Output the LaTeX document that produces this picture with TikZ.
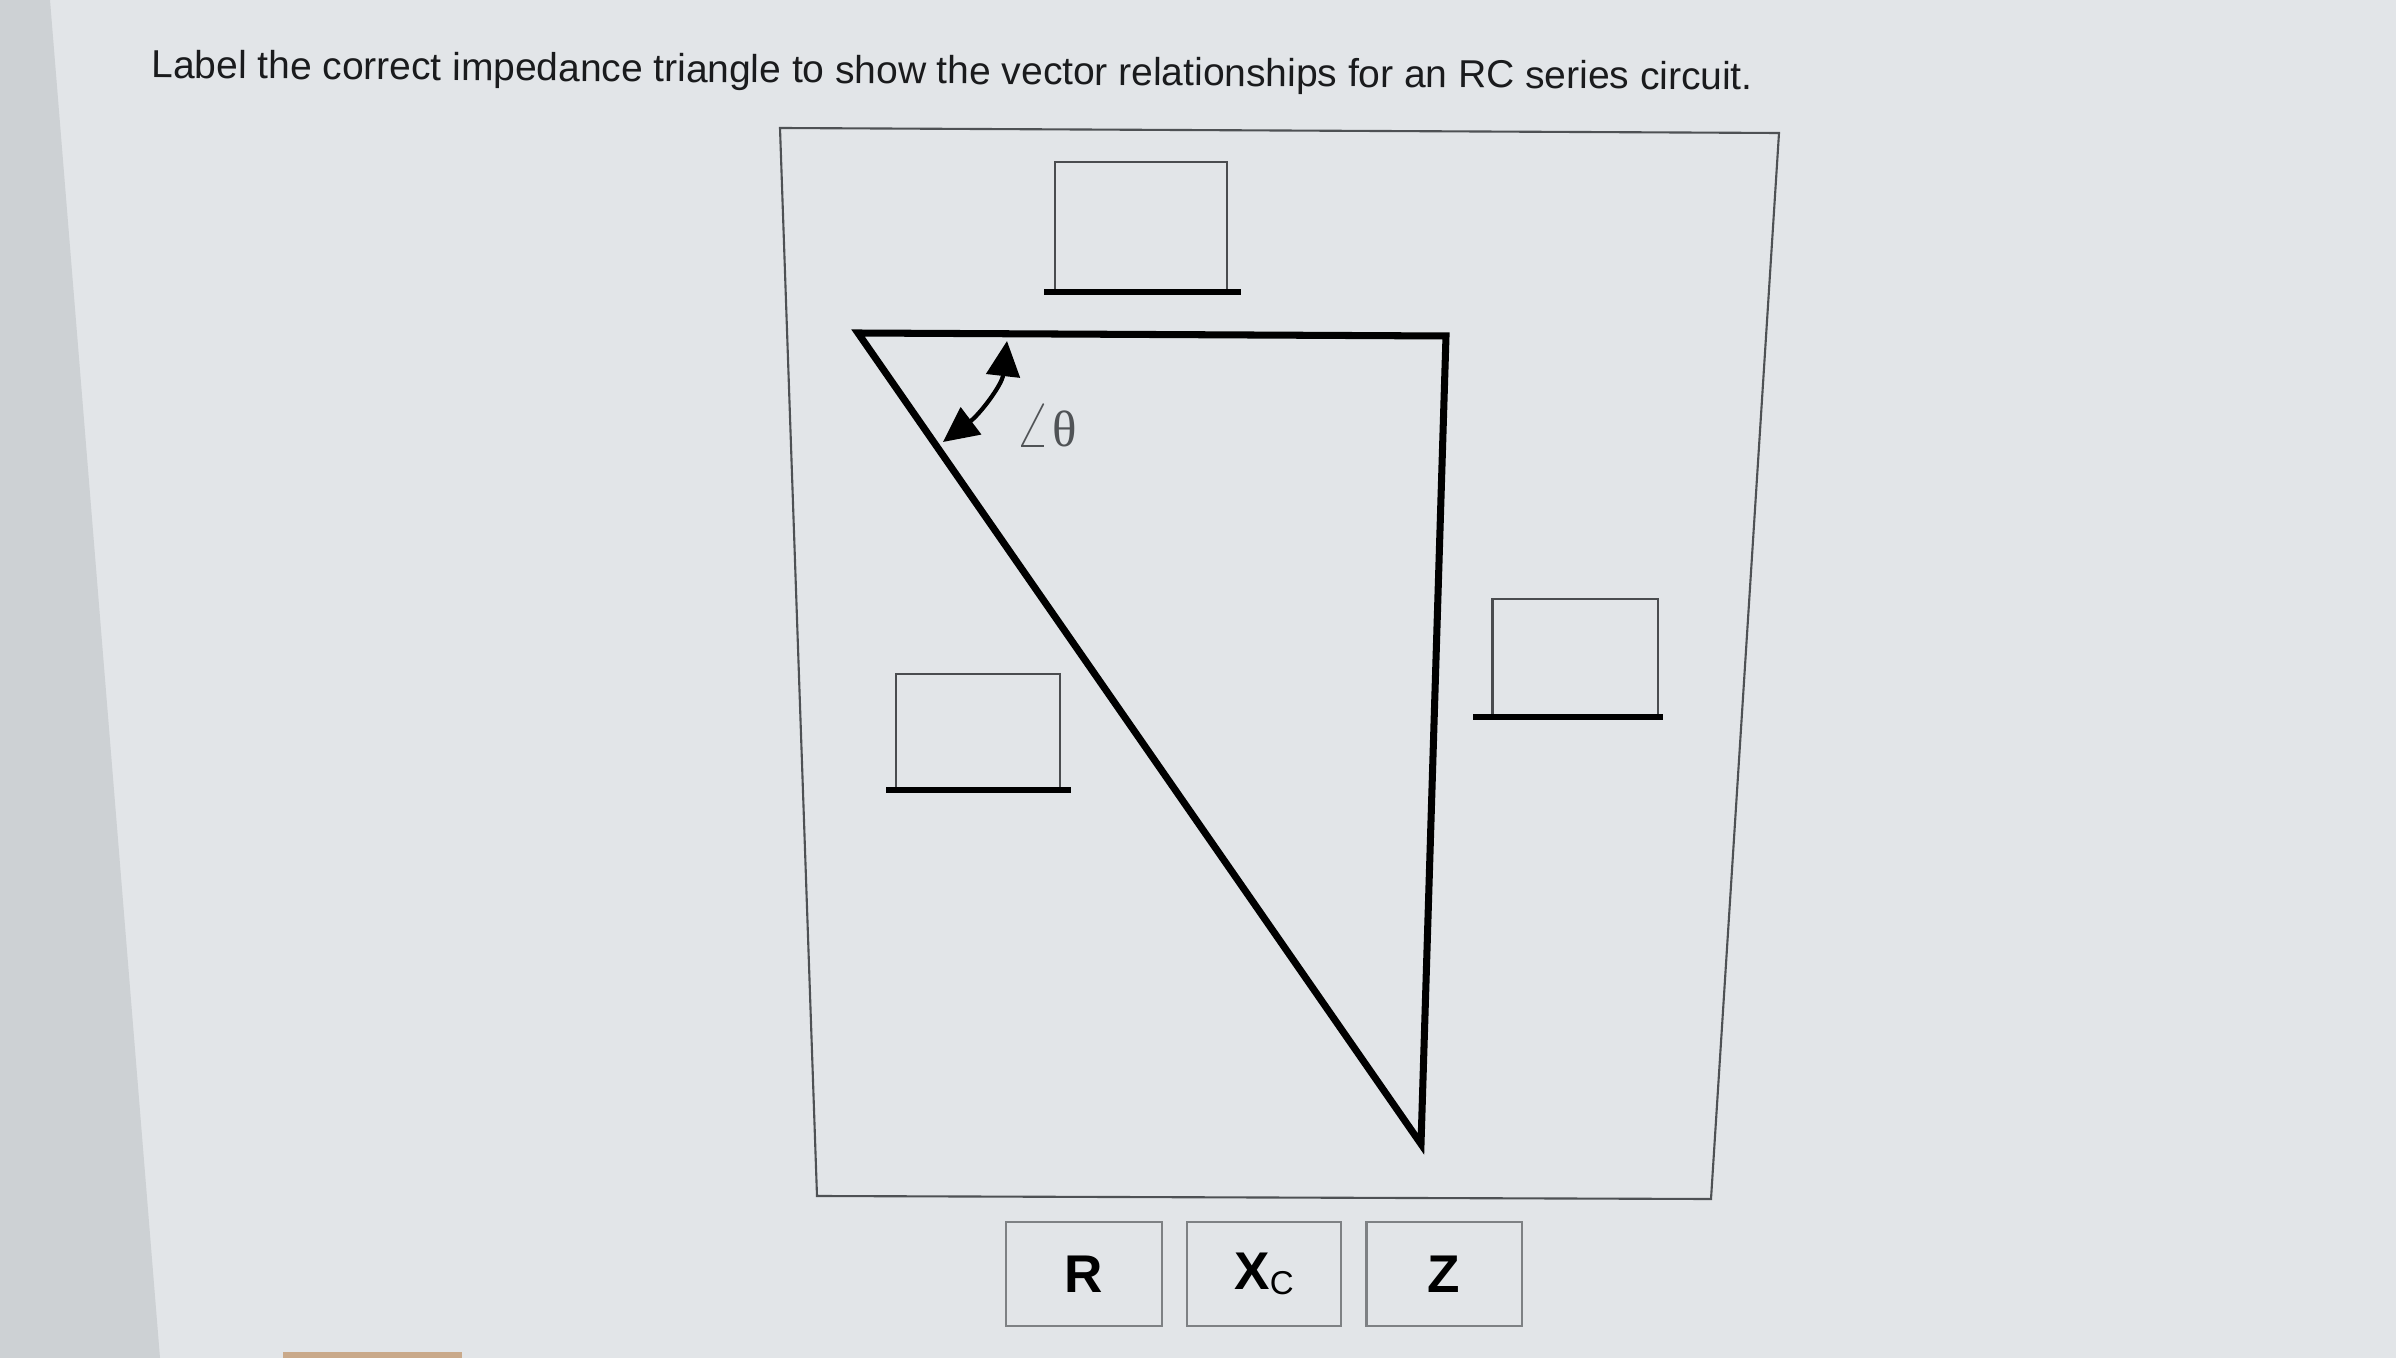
\documentclass[tikz,border=0pt]{standalone}
\usepackage{fontspec}
\setmainfont{Liberation Sans}
\newfontfamily\titlefont{Liberation Sans}
\newfontfamily\greekfont{Liberation Serif}
\usetikzlibrary{arrows.meta}
\definecolor{bgmain}{HTML}{E2E5E8}
\definecolor{bgband}{HTML}{CDD1D4}
\definecolor{framegray}{HTML}{4E5154}
\definecolor{boxgray}{HTML}{4A4C4F}
\definecolor{tilegray}{HTML}{7E8184}
\definecolor{textdark}{HTML}{1A1B1D}
\definecolor{anglegray}{HTML}{505356}
\definecolor{tan}{HTML}{C9A98A}
\tikzset{
  answerbox/.style={draw=boxgray, line width=0.6pt, inner sep=0pt},
  answerline/.style={draw=black, line width=1.5pt},
  tile/.style={draw=tilegray, line width=0.6pt, inner sep=0pt, minimum height=1.04cm,
    font=\bfseries\fontsize{15.1}{16}\selectfont, text=black},
  trianglestroke/.style={draw=black, line width=2pt, line join=miter},
  anglearrow/.style={line width=1.2pt, {Triangle[length=10pt,width=9.5pt]}-{Triangle[length=10pt,width=9.5pt]}}
}
\begin{document}
\begin{tikzpicture}[x=0.01cm,y=-0.01cm]
\useasboundingbox (0,0) rectangle (2396,1358);
% background (photo of a screen)
\fill[bgmain] (0,0) rectangle (2396,1358);
\fill[bgband] (0,0) -- (50,0) -- (160,1358) -- (0,1358) -- cycle;
\fill[tan] (283,1352) rectangle (462,1358);

% title
\node[anchor=base west, rotate=-0.43, inner sep=0pt, text=textdark,
      font=\titlefont\fontsize{11.07}{13}\selectfont] (title) at (151,78)
  {Label the correct impedance triangle to show the vector relationships for an RC series circuit.};

% outer frame (seen in perspective)
\coordinate (F1) at (780,128);
\coordinate (F2) at (1779,133);
\coordinate (F3) at (1711,1199);
\coordinate (F4) at (817,1196);
\draw[framegray, line width=0.6pt] (F1) -- (F2) -- (F3) -- (F4) -- cycle;

% impedance triangle
\coordinate (A) at (858,333);
\coordinate (B) at (1446,336);
\coordinate (C) at (1421,1144);
\draw[trianglestroke] (A) -- (B) -- (C) -- cycle;

% angle arrow
\coordinate (T1) at (1007,341);
\coordinate (T2) at (943,442);
\draw[anglearrow] (T1) .. controls (1002,385) and (980,414) .. (T2);
\node[text=anglegray, inner sep=0pt] (theta) at (1046,426)
  {\fontsize{14.5}{15}\selectfont\scalebox{1.3}{$\angle$}\kern0.5pt{\greekfont θ}};

% answer boxes
\node[answerbox, minimum width=1.72cm, minimum height=1.28cm] (top) at (1141,226) {};
\coordinate (topL) at (1044,292);
\coordinate (topR) at (1241,292);
\draw[answerline] (topL) -- (topR);

\node[answerbox, minimum width=1.64cm, minimum height=1.14cm] (left) at (978,731) {};
\coordinate (leftL) at (886,790);
\coordinate (leftR) at (1071,790);
\draw[answerline] (leftL) -- (leftR);

\node[answerbox, minimum width=1.65cm, minimum height=1.16cm] (right) at (1575,657) {};
\coordinate (rightL) at (1473,717);
\coordinate (rightR) at (1663,717);
\draw[answerline] (rightL) -- (rightR);

% draggable tiles
\node[tile, minimum width=1.56cm] (tR) at (1084,1274) {\raisebox{-1.3pt}{R}};
\node[tile, minimum width=1.54cm] (tX) at (1264,1274) {\raisebox{-1.3pt}{X{\mdseries\fontsize{9.4}{9}\selectfont\raisebox{-1.4pt}{C}}}};
\node[tile, minimum width=1.55cm] (tZ) at (1444,1274) {\raisebox{-1.3pt}{Z}};
\end{tikzpicture}
\end{document}
